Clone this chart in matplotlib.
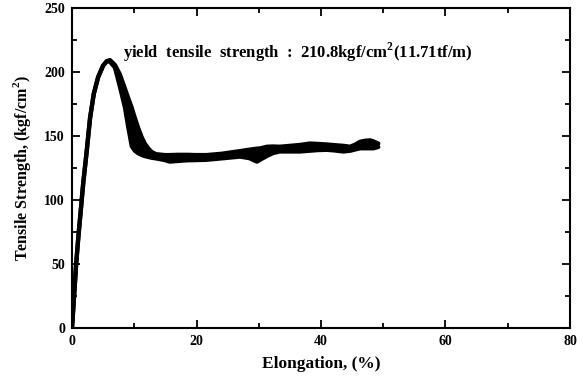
import matplotlib
matplotlib.use("Agg")
import matplotlib.pyplot as plt
import numpy as np

# Elongation (%) and the upper / lower edges of the thick tensile curve band (kgf/cm2)
elong = [0, 0.3, 0.65, 1.0, 1.3, 1.8, 2.36, 2.9, 3.5, 4.2, 5.0, 5.6, 6.1, 6.9, 7.7, 8.5,
         9.0, 9.6, 10.1, 10.65, 11.2, 11.7, 12.3, 12.8, 13.5, 14.9, 15.7, 17.0, 18.5, 20.0,
         21.6, 24.0, 27.0, 28.5, 29.7, 30.2, 31.3, 32.3, 33.4, 35.0, 36.6, 38.2, 39.5,
         40.9, 42.0, 43.6, 44.7, 45.5, 46.3, 47.1, 47.9, 48.4, 49.2]
upper = [0, 22, 49, 70, 86, 113, 138, 164, 183, 196, 205, 208.5, 209.3, 205.5, 198, 187,
         180, 172, 164, 156, 149, 144, 140, 137.5, 135.8, 135.1, 135.1, 135.3, 135.3, 135.1,
         135.1, 136.1, 138.2, 139.3, 140.1, 140.3, 141.6, 141.8, 141.6, 142.3, 143.0, 144.1, 143.8,
         143.4, 142.9, 142.3, 141.6, 143.3, 145.5, 146.3, 146.6, 145.8, 144.1]
lower = [0, 22, 49, 70, 86, 113, 138, 164, 183, 196, 205, 208.5, 208, 203.5, 188.5, 172.5,
         158, 142, 138.5, 136.5, 135.2, 134.3, 133.6, 133, 132.5, 131.2, 130.0, 130.5, 131.0, 131.2,
         131.4, 132.5, 133.9, 132.7, 130.0, 131.4, 134.4, 136.7, 137.9, 137.9, 137.9, 138.5, 139.0,
         139.2, 138.8, 137.9, 138.5, 139.5, 140.4, 140.4, 140.4, 140.4, 141.4]

x_ticks = [0, 20, 40, 60, 80]
y_ticks = [0, 50, 100, 150, 200, 250]

plt.rcParams['font.family'] = ['Liberation Serif', 'DejaVu Serif']
plt.rcParams['font.weight'] = 'bold'
plt.rcParams['mathtext.fontset'] = 'custom'
plt.rcParams['mathtext.rm'] = 'Liberation Serif:bold'
plt.rcParams['mathtext.bf'] = 'Liberation Serif:bold'

fig = plt.figure(figsize=(5.83, 3.76), dpi=100)
ax = fig.add_axes([0.1235, 0.1277, 0.8542, 0.851])

ax.fill_between(elong, lower, upper, color='black', linewidth=0.8, edgecolor='black')
ax.plot(elong, upper, color='black', lw=3.1, solid_capstyle='round', solid_joinstyle='round')
ax.plot(elong, lower, color='black', lw=3.1, solid_capstyle='round', solid_joinstyle='round')

ax.set_xlim(0, 80)
ax.set_ylim(0, 250)
ax.set_xticks(x_ticks)
ax.set_yticks(y_ticks)
ax.set_xticks(np.arange(10, 80, 20), minor=True)
ax.set_yticks(np.arange(25, 250, 50), minor=True)
ax.tick_params(which='both', direction='in', top=True, right=True, labelsize=10, width=1.3)
ax.tick_params(which='major', length=6, pad=5)
ax.tick_params(which='minor', length=3.5)
for s in ax.spines.values():
    s.set_linewidth(1.5)
for lab in ax.get_xticklabels() + ax.get_yticklabels():
    lab.set_fontweight('bold')

ax.set_xlabel('Elongation, (%)', fontsize=12.5, fontweight='bold', labelpad=6)
ax.set_ylabel('Tensile Strength, (kgf/cm$^2$)', fontsize=11.5, fontweight='bold', labelpad=8)

ax.text(8.2, 215, 'yield  tensile  strength  :  210.8kgf/cm$^2$(11.71tf/m)',
        fontsize=12, fontweight='bold', va='center', ha='left')

fig.savefig('out.png', dpi=100)
